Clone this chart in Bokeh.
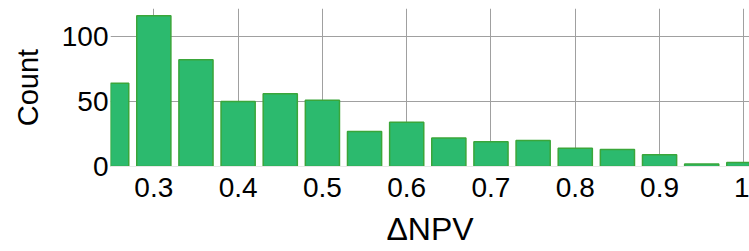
from bokeh.plotting import figure
from bokeh.models import Range1d, FixedTicker
from bokeh.embed import file_html
from bokeh.resources import INLINE

# Histogram of ΔNPV (bin centers and counts)
bin_centers = [0.25, 0.30, 0.35, 0.40, 0.45, 0.50, 0.55, 0.60,
               0.65, 0.70, 0.75, 0.80, 0.85, 0.90, 0.95, 1.00]
counts = [64, 116, 82, 50, 56, 51, 27, 34, 22, 19, 20, 14, 13, 9, 2, 3]

x_ticks = [0.3, 0.4, 0.5, 0.6, 0.7, 0.8, 0.9, 1.0]
x_tick_labels = ["0.3", "0.4", "0.5", "0.6", "0.7", "0.8", "0.9", "1"]
y_ticks = [0, 50, 100]
y_tick_labels = ["0", "50", "100"]

FONT = "Liberation Sans"

p = figure(width=749, height=251, output_backend="svg", toolbar_location=None,
           x_range=Range1d(0.2486, 1.0067), y_range=Range1d(0, 121.5),
           min_border_left=110, min_border_right=0, min_border_top=8,
           min_border_bottom=85)
p.outline_line_color = None
p.background_fill_color = "white"
p.border_fill_color = "white"

p.vbar(x=bin_centers, top=counts, bottom=0, width=0.0405,
       fill_color="#2cba6e", line_color="#3aa63a", line_width=1.5)

# x axis
xa = p.xaxis[0]
xa.ticker = FixedTicker(ticks=x_ticks)
xa.major_label_overrides = {t: l for t, l in zip(x_ticks, x_tick_labels)}
xa.axis_label = "ΔNPV"
xa.axis_label_text_font = FONT
xa.axis_label_text_font_size = "32px"
xa.axis_label_text_font_style = "normal"
xa.axis_label_text_color = "black"
xa.axis_label_standoff = 11
xa.major_label_text_font = FONT
xa.major_label_text_font_size = "28px"
xa.major_label_text_color = "black"
xa.major_label_standoff = 11
xa.major_tick_line_color = None
xa.minor_tick_line_color = None
xa.major_tick_out = 0
xa.major_tick_in = 0
xa.axis_line_color = "#e8e8e8"

# y axis
ya = p.yaxis[0]
ya.ticker = FixedTicker(ticks=y_ticks)
ya.major_label_overrides = {t: l for t, l in zip(y_ticks, y_tick_labels)}
ya.axis_label = "Count"
ya.axis_label_text_font = FONT
ya.axis_label_text_font_size = "29px"
ya.axis_label_text_font_style = "normal"
ya.axis_label_text_color = "black"
ya.axis_label_standoff = 15
ya.major_label_text_font = FONT
ya.major_label_text_font_size = "28px"
ya.major_label_text_color = "black"
ya.major_label_standoff = 2
ya.major_tick_line_color = None
ya.minor_tick_line_color = None
ya.major_tick_out = 0
ya.major_tick_in = 0
ya.axis_line_color = None

# grids
p.xgrid[0].ticker = FixedTicker(ticks=x_ticks)
p.xgrid[0].grid_line_color = "#a0a0a0"
p.xgrid[0].grid_line_width = 1
p.ygrid[0].ticker = FixedTicker(ticks=[50, 100])
p.ygrid[0].grid_line_color = "#a0a0a0"
p.ygrid[0].grid_line_width = 1

open("out.html", "w").write(file_html(p, INLINE))
